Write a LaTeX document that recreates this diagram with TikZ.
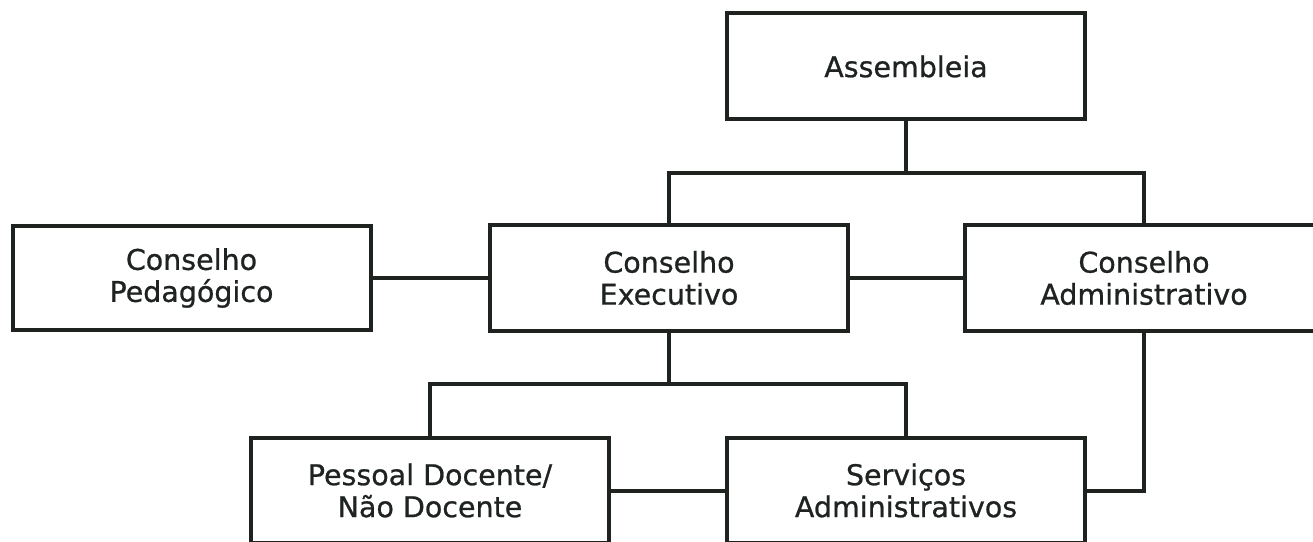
\documentclass[tikz,border=0pt]{standalone}
\usepackage{fontspec}
\setmainfont{DejaVu Sans}[FakeBold=0.8]
\usepackage{tikz}
\usetikzlibrary{positioning}
\definecolor{ink}{HTML}{1E2320}
\tikzstyle{org_box} = [draw=ink, rectangle, line width=4pt, minimum width=358pt, minimum height=106pt, inner sep=0pt, align=center, text=ink, font=\fontsize{28.5}{32}\selectfont]
\tikzstyle{org_line} = [draw=ink, line width=4pt]

\begin{document}
\begin{tikzpicture}[x=1pt, y=1pt, node distance=237pt]
	\useasboundingbox (0,0) rectangle (1313,541);
	\clip (0,0) rectangle (1313,541);
	\node[org_box] (exec) at (669,263) {Conselho\\Executivo};
	\node[org_box, above of=exec, xshift=237pt, yshift=-25.5pt] (assembleia) {Assembleia};
	\node[org_box, left of=exec, xshift=-240.5pt, minimum height=104pt] (pedagogico) {Conselho\\Pedagógico};
	\node[org_box, right of=exec, xshift=238pt] (administrativo) {Conselho\\Administrativo};
	\node[org_box, below of=exec, xshift=-239pt, yshift=24.5pt, minimum height=105pt] (pessoal) {Pessoal Docente/\\Não Docente};
	\node[org_box, right of=pessoal, xshift=239pt, minimum height=105pt] (servicos) {Serviços\\Administrativos};
	
	% draw lines
	\draw[org_line] (assembleia.south) -- ++(0,-52) coordinate (topjoin);
	\draw[org_line] (exec.north) |- (topjoin) -| (administrativo.north);
	\draw[org_line] (pedagogico.east) -- (pedagogico.east -| exec.west);
	\draw[org_line] (exec.east) -- (administrativo.west);
	\draw[org_line] (exec.south) -- ++(0,-51) coordinate (lowjoin);
	\draw[org_line] (pessoal.north) |- (lowjoin) -| (servicos.north);
	\draw[org_line] (pessoal.east) -- (servicos.west);
	\draw[org_line] (administrativo.south) |- (servicos.east);
\end{tikzpicture}
\end{document}
